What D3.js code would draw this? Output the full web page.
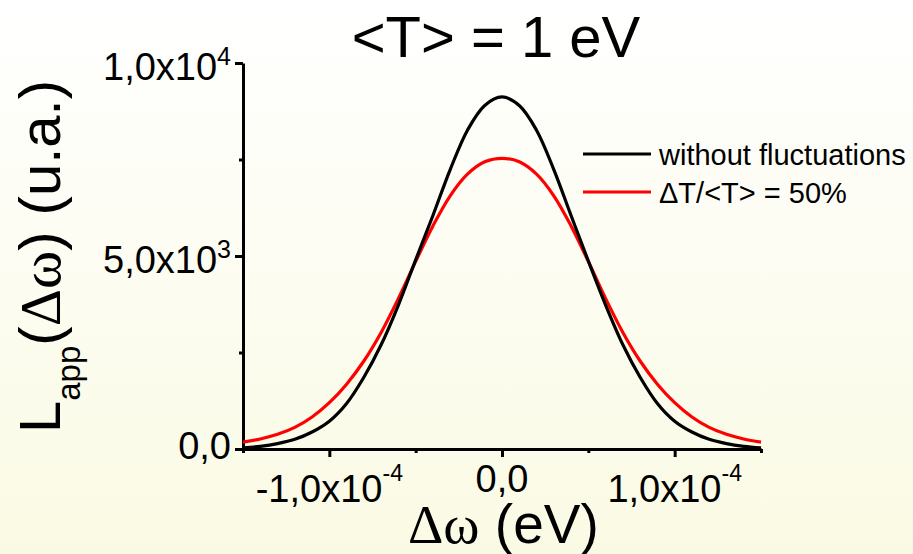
<!DOCTYPE html>
<meta charset="utf-8">
<script src="https://d3js.org/d3.v7.min.js"></script>
<style>
  body { margin: 0; }
  text { font-family: "Liberation Sans", Arial, sans-serif; fill: #000; }
</style>
<svg id="chart" width="913" height="554"></svg>

<script>
  // detuning, in units of 1e-5 eV
  const dOmega = [-15, -14, -13, -12, -11, -10, -9, -8, -7, -6, -5, -4, -3, -2, -1, 0,
                  1, 2, 3, 4, 5, 6, 7, 8, 9, 10, 11, 12, 13, 14, 15];
  // L_app without fluctuations
  const noFluct = [30, 70, 140, 250, 440, 720, 1180, 1860, 2700, 3730, 4900, 6050, 7240, 8260, 8900, 9120,
                   8900, 8260, 7240, 6050, 4870, 3730, 2700, 1860, 1180, 720, 440, 250, 140, 70, 30];
  // L_app with dT/<T> = 50%
  const fluct50 = [180, 260, 380, 560, 830, 1200, 1680, 2280, 3020, 3900, 4860, 5780, 6560, 7120, 7440, 7530,
                   7440, 7120, 6560, 5780, 4860, 3900, 3020, 2280, 1680, 1200, 830, 560, 380, 260, 180];

  const xTicks = [-1.5e-4, -1e-4, -0.5e-4, 0, 0.5e-4, 1e-4, 1.5e-4];
  const xTickLabels = ["", "-1,0x10|-4", "", "0,0", "", "1,0x10|-4", ""];
  const yTicks = [0, 2500, 5000, 7500, 10000];
  const yTickLabels = ["0,0", "", "5,0x10|3", "", "1,0x10|4"];

  const seriesNames = ["without fluctuations", "\u0394T/<T> = 50%"];
  const seriesColors = ["#000000", "#ff0000"];

  const width = 913, height = 554;
  const svg = d3.select("#chart");

  // background: white at top fading to pale yellow
  const grad = svg.append("defs").append("linearGradient")
    .attr("id", "bg").attr("x1", 0).attr("y1", 0).attr("x2", 0).attr("y2", 1);
  grad.append("stop").attr("offset", "0%").attr("stop-color", "#ffffff");
  grad.append("stop").attr("offset", "100%").attr("stop-color", "#fafae4");
  svg.append("rect").attr("width", width).attr("height", height).attr("fill", "url(#bg)");

  const x = d3.scaleLinear().domain([-1.5e-4, 1.5e-4]).range([243, 761]);
  const y = d3.scaleLinear().domain([0, 1e4]).range([449, 63]);

  // axes
  const gx = svg.append("g")
    .attr("transform", `translate(0,${y(0)})`)
    .call(d3.axisBottom(x).tickValues(xTicks).tickSize(8).tickSizeOuter(0).tickFormat(""));
  const gy = svg.append("g")
    .attr("transform", `translate(${x(-1.5e-4)},0)`)
    .call(d3.axisLeft(y).tickValues(yTicks).tickSize(8).tickSizeOuter(0).tickFormat(""));

  [gx, gy].forEach(g => {
    g.select(".domain").attr("stroke", "#000").attr("stroke-width", 3);
    g.selectAll(".tick line").attr("stroke", "#000").attr("stroke-width", 3);
  });
  gx.selectAll(".tick line").filter((d, i) => xTickLabels[i] === "").attr("y2", 4);
  gy.selectAll(".tick line").filter((d, i) => yTickLabels[i] === "").attr("x2", -4);

  // tick labels with superscripts
  xTicks.forEach((v, i) => {
    if (!xTickLabels[i]) return;
    const [base, sup] = xTickLabels[i].split("|");
    const t = svg.append("text")
      .attr("x", x(v))
      .attr("y", sup ? 502 : 492)
      .attr("text-anchor", "middle")
      .style("font-size", "38px")
      .text(base);
    if (sup) t.append("tspan").attr("dy", -21).style("font-size", "23px").text(sup);
  });
  yTicks.forEach((v, i) => {
    if (!yTickLabels[i]) return;
    const [base, sup] = yTickLabels[i].split("|");
    const t = svg.append("text")
      .attr("x", 231)
      .attr("y", y(v) + (sup ? 17 : 10))
      .attr("text-anchor", "end")
      .style("font-size", "38px")
      .text(base);
    if (sup) t.append("tspan").attr("dy", -15).style("font-size", "25px").text(sup);
  });

  // curves
  const line = d3.line()
    .x(d => x(d[0] * 1e-5))
    .y(d => y(d[1]))
    .curve(d3.curveCatmullRom);

  [fluct50, noFluct].forEach((vals, k) => {
    svg.append("path")
      .datum(dOmega.map((d, i) => [d, vals[i]]))
      .attr("fill", "none")
      .attr("stroke", k === 0 ? seriesColors[1] : seriesColors[0])
      .attr("stroke-width", 3.2)
      .attr("d", line);
  });

  // legend
  seriesNames.forEach((name, i) => {
    const ly = 154 + i * 38;
    svg.append("line")
      .attr("x1", 583).attr("x2", 651).attr("y1", ly).attr("y2", ly)
      .attr("stroke", seriesColors[i]).attr("stroke-width", 3);
    svg.append("text")
      .attr("x", 659).attr("y", ly + 11)
      .style("font-size", "29px")
      .text(name);
  });

  // title
  svg.append("text")
    .attr("x", 496).attr("y", 57)
    .attr("text-anchor", "middle")
    .style("font-size", "58px")
    .text("<T> = 1 eV");

  // x axis title
  const xt = svg.append("text")
    .attr("x", 408).attr("y", 543)
    .style("font-size", "55px");
  xt.append("tspan").style("font-family", "'Liberation Serif', 'Times New Roman', serif").text("\u0394\u03c9");
  xt.append("tspan").text(" (eV)");

  // y axis title
  const yt = svg.append("text")
    .attr("transform", "translate(60,433) rotate(-90)")
    .style("font-size", "58px");
  yt.append("tspan").text("L");
  yt.append("tspan").attr("dy", 20).style("font-size", "33px").text("app");
  yt.append("tspan").attr("dy", -20).text("(");
  yt.append("tspan").style("font-family", "'Liberation Serif', 'Times New Roman', serif").text("\u0394\u03c9");
  yt.append("tspan").text(") (u.a.)");
</script>
